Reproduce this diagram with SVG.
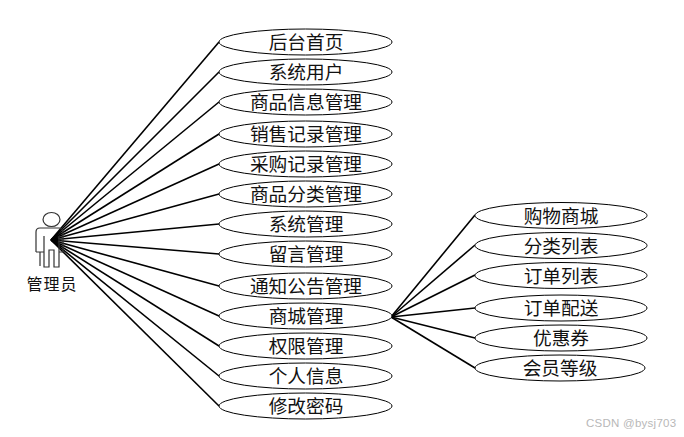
<svg xmlns="http://www.w3.org/2000/svg" width="684" height="437" viewBox="0 0 684 437">
<style>
.bg{fill:#fff}
.n ellipse{fill:#fff;stroke:#000;stroke-width:1}
.n text{font-family:"Liberation Serif","Noto Sans CJK SC",serif;font-size:18.700px;fill:#111;text-anchor:middle;dominant-baseline:central}
#connectors line{stroke:#000;stroke-width:1.600}
.wm{font-family:"Liberation Sans","Noto Sans",sans-serif;font-size:11.500px;letter-spacing:.25px;fill:#b8b8b8}
</style>
<rect class="bg" width="684" height="437"/>
<g id="connectors">
<line x1="51" y1="240" x2="219" y2="42"/>
<line x1="51" y1="240" x2="219" y2="72"/>
<line x1="51" y1="240" x2="219" y2="102"/>
<line x1="51" y1="240" x2="219" y2="134"/>
<line x1="51" y1="240" x2="219" y2="164"/>
<line x1="51" y1="240" x2="219" y2="194"/>
<line x1="51" y1="240" x2="219" y2="224"/>
<line x1="51" y1="240" x2="219" y2="254"/>
<line x1="51" y1="240" x2="219" y2="286"/>
<line x1="51" y1="240" x2="219" y2="316"/>
<line x1="51" y1="240" x2="219" y2="346"/>
<line x1="51" y1="240" x2="219" y2="376"/>
<line x1="51" y1="240" x2="219" y2="406"/>
<line x1="391" y1="317" x2="475" y2="215"/>
<line x1="391" y1="317" x2="475" y2="245"/>
<line x1="391" y1="317" x2="475" y2="275"/>
<line x1="391" y1="317" x2="475" y2="308"/>
<line x1="391" y1="317" x2="475" y2="338"/>
<line x1="391" y1="317" x2="475" y2="368"/>
</g>
<g id="actor">
<ellipse cx="51.500" cy="219.500" rx="8.500" ry="7" fill="#fff" stroke="#333" stroke-width="1.200"/>
<path d="M44 228H59Q63 228 63 232V252H59V236M59 252V267H54V250H49V267H44V236M44 252H40V266M36 252V232Q36 228 40 228H44M36 252H40" fill="none" stroke="#333" stroke-width="1.200"/>
<text x="52" y="284" font-family="'Liberation Serif','Noto Sans CJK SC',serif" font-size="16" letter-spacing="1" fill="#111" text-anchor="middle" dominant-baseline="central">管理员</text>
</g>
<g id="n1" class="n"><ellipse cx="305.500" cy="42" rx="86.500" ry="13"/><text x="306" y="42.500">后台首页</text></g>
<g id="n2" class="n"><ellipse cx="305.500" cy="72" rx="86.500" ry="13"/><text x="306" y="72.500">系统用户</text></g>
<g id="n3" class="n"><ellipse cx="305.500" cy="102" rx="86.500" ry="13"/><text x="306" y="102.500">商品信息管理</text></g>
<g id="n4" class="n"><ellipse cx="305.500" cy="134" rx="86.500" ry="13"/><text x="306" y="134.500">销售记录管理</text></g>
<g id="n5" class="n"><ellipse cx="305.500" cy="164" rx="86.500" ry="13"/><text x="306" y="164.500">采购记录管理</text></g>
<g id="n6" class="n"><ellipse cx="305.500" cy="194" rx="86.500" ry="13"/><text x="306" y="194.500">商品分类管理</text></g>
<g id="n7" class="n"><ellipse cx="305.500" cy="224" rx="86.500" ry="13"/><text x="306" y="224.500">系统管理</text></g>
<g id="n8" class="n"><ellipse cx="305.500" cy="254" rx="86.500" ry="13"/><text x="306" y="254.500">留言管理</text></g>
<g id="n9" class="n"><ellipse cx="305.500" cy="286" rx="86.500" ry="13"/><text x="306" y="286.500">通知公告管理</text></g>
<g id="n10" class="n"><ellipse cx="305.500" cy="316" rx="86.500" ry="13"/><text x="306" y="316.500">商城管理</text></g>
<g id="n11" class="n"><ellipse cx="305.500" cy="346" rx="86.500" ry="13"/><text x="306" y="346.500">权限管理</text></g>
<g id="n12" class="n"><ellipse cx="305.500" cy="376" rx="86.500" ry="13"/><text x="306" y="376.500">个人信息</text></g>
<g id="n13" class="n"><ellipse cx="305.500" cy="406" rx="86.500" ry="13"/><text x="306" y="406.500">修改密码</text></g>
<g id="m1" class="n"><ellipse cx="561" cy="215.500" rx="86" ry="13"/><text x="561" y="216">购物商城</text></g>
<g id="m2" class="n"><ellipse cx="561" cy="245.500" rx="86" ry="13"/><text x="561" y="246">分类列表</text></g>
<g id="m3" class="n"><ellipse cx="561" cy="275.500" rx="86" ry="13"/><text x="561" y="276">订单列表</text></g>
<g id="m4" class="n"><ellipse cx="561" cy="308" rx="86" ry="13"/><text x="561" y="308.500">订单配送</text></g>
<g id="m5" class="n"><ellipse cx="561" cy="338" rx="86" ry="13"/><text x="561" y="338.500">优惠券</text></g>
<g id="m6" class="n"><ellipse cx="560" cy="368" rx="85" ry="13"/><text x="560" y="368.500">会员等级</text></g>
<text class="wm" x="586" y="427">CSDN @bysj703</text>
</svg>
